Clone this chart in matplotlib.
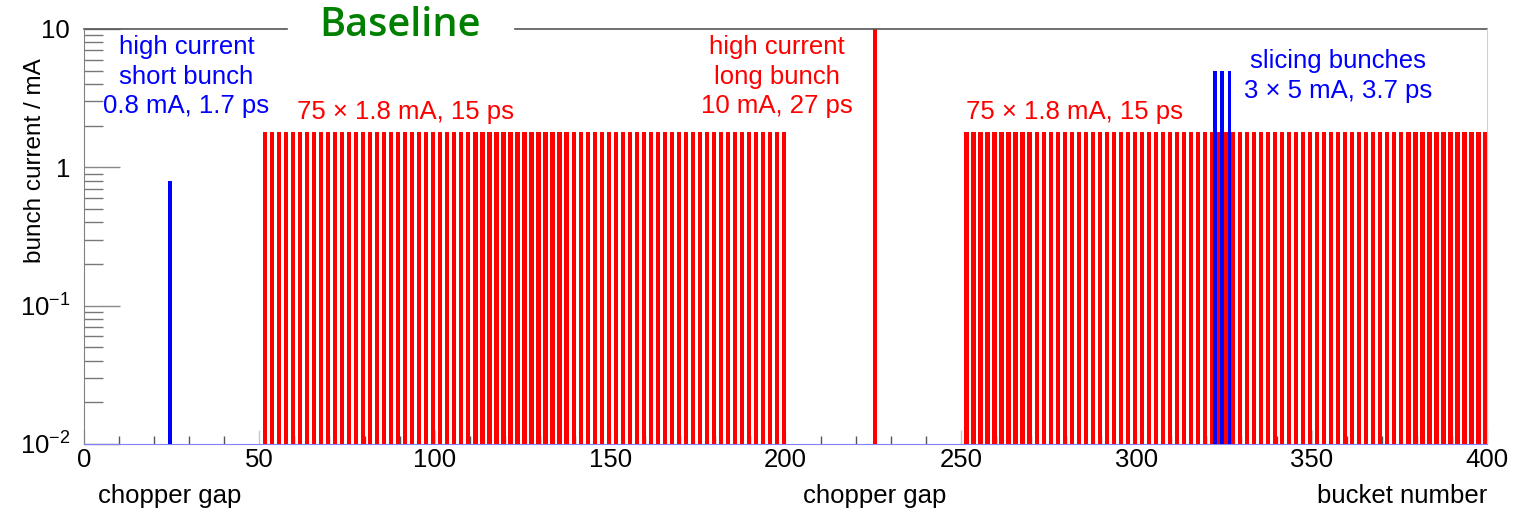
import numpy as np
import matplotlib
matplotlib.use("Agg")
import matplotlib.pyplot as plt

plt.rcParams['font.family'] = ['Liberation Sans', 'DejaVu Sans']
plt.rcParams['mathtext.default'] = 'regular'

# bunch fill pattern (bucket index, current in mA)
train1_buckets = np.arange(51, 200, 2)
train2_buckets = np.arange(251, 400, 2)
train_current = 1.8
short_bunch = [24]
short_current = [0.8]
long_bunch = [225]
long_current = [10.0]
slicing_buckets = [322, 324, 326]
slicing_current = [5.0, 5.0, 5.0]

yticks = [0.01, 0.1, 1, 10]
ytick_labels = ['$10^{-2}$', '$10^{-1}$', '1', '10']

RED = '#ff0000'
BLUE = '#0000ff'
FS = 18.5

fig = plt.figure(figsize=(15.24, 5.14), dpi=100)
ax = fig.add_axes([0.0551, 0.1362, 0.9206, 0.8074])

ax.bar(train1_buckets, [train_current] * len(train1_buckets), width=1.2,
       align='edge', color=RED, log=True, zorder=2)
ax.bar(train2_buckets, [train_current] * len(train2_buckets), width=1.2,
       align='edge', color=RED, log=True, zorder=2)
ax.bar(np.array(long_bunch) + 0.5, long_current, width=1.1, color=RED,
       log=True, zorder=2)
ax.bar(np.array(short_bunch) + 0.5, short_current, width=0.95, color=BLUE,
       log=True, zorder=3)
ax.bar(np.array(slicing_buckets) + 0.5, slicing_current, width=0.95,
       color=BLUE, log=True, zorder=3)

ax.set_xlim(0, 400)
ax.set_ylim(0.01, 10)
ax.set_yscale('log')

# ticks, ROOT style
ax.set_xticks(np.arange(0, 401, 50))
ax.set_xticks(np.arange(0, 401, 10), minor=True)
ax.set_yticks(yticks)
ax.set_yticklabels(ytick_labels)
ax.yaxis.set_minor_locator(matplotlib.ticker.LogLocator(subs=np.arange(2, 10)))
ax.yaxis.set_minor_formatter(matplotlib.ticker.NullFormatter())
ax.tick_params(axis='x', which='major', direction='in', length=10,
               width=1, color='#c8c8c8', labelsize=FS, pad=3)
ax.tick_params(axis='x', which='minor', direction='in', length=5.5,
               width=1, color='#555555')
ax.tick_params(axis='y', which='major', direction='in', length=26,
               width=1, color='#888888', labelsize=FS, pad=10)
ax.tick_params(axis='y', which='minor', direction='in', length=13.5,
               width=1, color='#777777')

ax.spines['bottom'].set_color('#8080ff')
ax.spines['left'].set_color('#808080')
ax.spines['right'].set_color('#d0d0d0')
ax.spines['top'].set_visible(False)
# top frame with a gap for the title
ax.plot([0, 0.1447], [1, 1], transform=ax.transAxes, color='#555555',
        lw=1.2, clip_on=False)
ax.plot([0.307, 1], [1, 1], transform=ax.transAxes, color='#555555',
        lw=1.2, clip_on=False)

ax.set_ylabel('bunch current / mA', fontsize=17.5)
ax.yaxis.set_label_coords(-0.027, 0.684)

xt = ax.get_xaxis_transform()
ax.text(29.2, 0.885, 'high current\nshort bunch\n0.8 mA, 1.7 ps', color=BLUE,
        fontsize=FS, ha='center', va='center', transform=xt, linespacing=1.3)
ax.text(91.8, 0.80, '75 × 1.8 mA, 15 ps', color=RED, fontsize=FS,
        ha='center', va='center', transform=xt)
ax.text(197.6, 0.885, 'high current\nlong bunch\n10 mA, 27 ps', color=RED,
        fontsize=FS, ha='center', va='center', transform=xt, linespacing=1.3)
ax.text(282.3, 0.80, '75 × 1.8 mA, 15 ps', color=RED, fontsize=FS,
        ha='center', va='center', transform=xt)
ax.text(357.5, 0.887, 'slicing bunches\n3 × 5 mA, 3.7 ps', color=BLUE,
        fontsize=FS, ha='center', va='center', transform=xt, linespacing=1.3)

ax.text(24.5, -0.125, 'chopper gap', fontsize=FS, ha='center', va='center',
        transform=xt)
ax.text(225.5, -0.125, 'chopper gap', fontsize=FS, ha='center', va='center',
        transform=xt)
ax.text(400, -0.125, 'bucket number', fontsize=FS, ha='right', va='center',
        transform=xt)

fig.text(400 / 1524, 1 - 26 / 514, 'Baseline', color='#008000',
         fontsize=28.5, fontweight='semibold', family='Open Sans',
         ha='center', va='center')

fig.savefig('out.png', dpi=100)
